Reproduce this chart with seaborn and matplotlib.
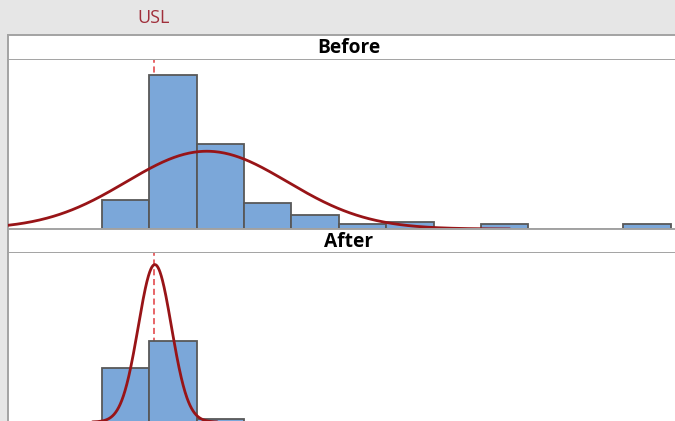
import numpy as np
import matplotlib
matplotlib.use("Agg")
import matplotlib.pyplot as plt
import matplotlib.transforms as mtransforms
import seaborn as sns

# ---- data -------------------------------------------------------------
bin_edges_before = [0, 1, 2, 3, 4, 5, 6, 7, 8, 9, 10, 11, 12]
counts_before = [17, 89, 49, 15, 8, 3, 4, 0, 3, 0, 0, 3]

bin_edges_after = [0, 1, 2, 3]
counts_after = [18, 27, 1]

# fitted normal parameters for each stage
mean_before, sigma_before = 2.215, 1.70
mean_after, sigma_after = 1.118, 0.35

usl = 1.09
panel_titles = ["Before", "After"]

# ---- style ------------------------------------------------------------
sns.set_style("white")
plt.rcParams["font.family"] = ["Open Sans", "DejaVu Sans"]

BG = "#e6e6e6"
BORDER = "#a3a3a3"
BAR_FILL = "#7ba7d9"
BAR_EDGE = "#585858"
CURVE = "#981417"
USL_LINE = "#e03a3e"
USL_TEXT = "#a02f3b"

W, H = 675, 421
fig = plt.figure(figsize=(W / 100, H / 100), dpi=100, facecolor=BG)

PX_PER_UNIT = 47.4
X_MIN, X_MAX = -1.98, 12.4
LEFT_PX = 8.0
RIGHT_PX = LEFT_PX + (X_MAX - X_MIN) * PX_PER_UNIT


def px_rect(top, bottom):
    return [LEFT_PX / W, 1 - bottom / H, (RIGHT_PX - LEFT_PX) / W, (bottom - top) / H]


def style_box(ax, sides=("left", "top", "bottom", "right")):
    ax.set_xticks([])
    ax.set_yticks([])
    ax.set_xlabel("")
    ax.set_ylabel("")
    for s, sp in ax.spines.items():
        sp.set_visible(s in sides)
        sp.set_color(BORDER)
        sp.set_linewidth(1.4)


def header(top, bottom, title):
    hax = fig.add_axes(px_rect(top, bottom))
    hax.set_facecolor("white")
    style_box(hax)
    hax.text(0.5, 0.47, title, transform=hax.transAxes, ha="center", va="center",
             fontsize=13.8, fontweight="bold", color="black")
    return hax


def panel(top, bottom, edges, counts, mu, sd, ymax):
    ax = fig.add_axes(px_rect(top, bottom))
    ax.set_facecolor("white")
    centers = [(a + b) / 2 for a, b in zip(edges[:-1], edges[1:])]
    # spec limit drawn beneath the bars
    ax.axvline(usl, color=USL_LINE, lw=1.1, dashes=(4, 2.4), zorder=1)
    sns.histplot(x=centers, weights=counts, bins=edges, ax=ax, stat="count",
                 color=BAR_FILL, edgecolor=BAR_EDGE, linewidth=1.3, alpha=1,
                 zorder=2)
    n = sum(counts)
    width = edges[1] - edges[0]
    lo = max(X_MIN, mu - 3.76 * sd)
    hi = mu + 3.76 * sd
    xs = np.linspace(lo, hi, 400)
    ys = n * width * np.exp(-0.5 * ((xs - mu) / sd) ** 2) / (sd * np.sqrt(2 * np.pi))
    sns.lineplot(x=xs, y=ys, ax=ax, color=CURVE, lw=2.0, sort=False,
                 estimator=None, zorder=3)
    ax.set_xlim(X_MIN, X_MAX)
    ax.set_ylim(0, ymax)
    style_box(ax, sides=("left",))
    return ax


header(35, 59.5, panel_titles[0])
ax_before = panel(59.5, 229, bin_edges_before, counts_before,
                  mean_before, sigma_before, 97.7)
header(229, 253, panel_titles[1])
ax_after = panel(253, 422, bin_edges_after, counts_after,
                 mean_after, sigma_after, 56.3)

# USL label above the first header
trans = mtransforms.blended_transform_factory(ax_before.transData, fig.transFigure)
ax_before.text(usl, 1 - 18 / H, "USL", transform=trans, ha="center", va="center",
               fontsize=13, color=USL_TEXT, clip_on=False)

fig.savefig("out.png", dpi=100, facecolor=BG)
